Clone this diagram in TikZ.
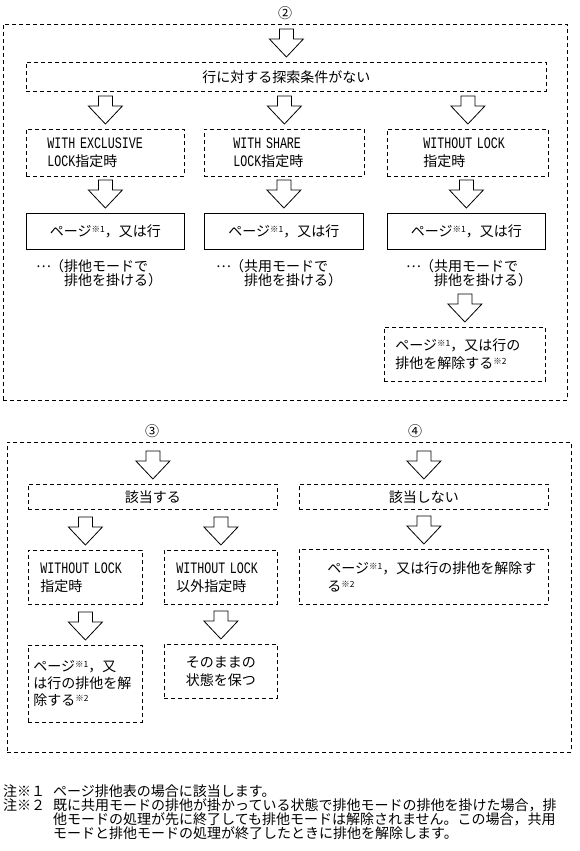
\documentclass[tikz,border=0pt]{standalone}
\usepackage{fontspec}
\setmainfont{Noto Sans CJK JP}
\newfontfamily\monof[Scale=1.14, FakeStretch=0.73]{Liberation Mono}
\usepackage{tikz}
\lineskiplimit=-10pt
\newcommand{\kome}[1]{\raisebox{0.55ex}{\fontsize{8.5}{8.5}\selectfont ※#1}}
\newcommand{\leadellip}{\makebox[1em][l]{\raisebox{0.3em}{…}}}
\newcommand{\blockdown}[1]{\draw[hollow] ([yshift=5pt]#1.north) -- ++(-17,-18) -- ++(10,0) -- ++(0,-10) -- ++(14,0) -- ++(0,10) -- ++(10,0) -- cycle;}

\begin{document}
\begin{tikzpicture}[x=1pt, y=-1pt, font=\fontsize{14}{18}\selectfont, frame/.style = {draw, dash pattern=on 4pt off 3pt, line width=0.8pt, anchor=north west, inner sep=0pt}, dbox/.style = {draw, dash pattern=on 4pt off 3pt, line width=0.8pt, anchor=north west, align=left, inner xsep=0pt, inner ysep=0pt}, sbox/.style = {draw, line width=0.8pt, anchor=north west, align=center, inner sep=0pt}, hollow/.style = {draw, line width=0.8pt, line join=miter}, remark/.style = {anchor=west, align=left, inner sep=0pt, font=\fontsize{14}{14}\selectfont}]
	\useasboundingbox (0,0) rectangle (580,851);
	% (2)
	\node (lab2) at (285,13) {②};
	\node[frame, minimum width=564, minimum height=376] (sec2) at (3,24) {};
	\node[dbox, minimum width=520, minimum height=29, align=center] (cond) at (26,62) {行に対する探索条件がない};
	\node[dbox, minimum width=158, minimum height=47, text width=116] (exc) at (26,129) {{\monof WITH EXCLUSIVE}\\{\monof LOCK}指定時};
	\node[dbox, minimum width=160, minimum height=47, text width=102] (shr) at (204,129) {{\monof WITH SHARE}\\{\monof LOCK}指定時};
	\node[dbox, minimum width=161, minimum height=47, text width=89] (wol) at (387,129) {{\monof WITHOUT LOCK}\\指定時};
	\node[sbox, minimum width=158, minimum height=36] (pg1) at (26,213) {ページ\kome{1}，又は行};
	\node[sbox, minimum width=159, minimum height=36] (pg2) at (204,213) {ページ\kome{1}，又は行};
	\node[sbox, minimum width=158, minimum height=36] (pg3) at (387,213) {ページ\kome{1}，又は行};
	\node[remark] (how1) at (36,273) {\leadellip（排他モードで\\\hspace*{2em}排他を掛ける）};
	\node[remark] (how2) at (216,273) {\leadellip（共用モードで\\\hspace*{2em}排他を掛ける）};
	\node[remark] (how3) at (406,273) {\leadellip（共用モードで\\\hspace*{2em}排他を掛ける）};
	\node[dbox, minimum width=161, minimum height=54, text width=139] (rel2) at (384,327) {ページ\kome{1}，又は行の\\排他を解除する\kome{2}};
	% (3) and (4)
	\node (lab3) at (152,431) {③};
	\node (lab4) at (415,431) {④};
	\node[frame, minimum width=564, minimum height=310] (sec3) at (7,442) {};
	\node[dbox, minimum width=249, minimum height=25, align=center] (hit) at (28,484) {該当する};
	\node[dbox, minimum width=114, minimum height=54, text width=90] (wol3) at (28,550) {{\monof WITHOUT LOCK}\\指定時};
	\node[dbox, minimum width=113, minimum height=54, text width=89] (oth3) at (164,550) {{\monof WITHOUT LOCK}\\以外指定時};
	\node[dbox, minimum width=114, minimum height=77, text width=104, font=\fontsize{14}{17}\selectfont] (rel3) at (28,645) {ページ\kome{1}，又\\は行の排他を解\\除する\kome{2}};
	\node[dbox, minimum width=113, minimum height=54, align=center] (keep) at (164,644) {そのままの\\状態を保つ};
	\node[dbox, minimum width=249, minimum height=25, align=center] (miss) at (299,484) {該当しない};
	\node[dbox, minimum width=249, minimum height=55, text width=193] (rel4) at (299,549) {ページ\kome{1}，又は行の排他を解除す\\る\kome{2}};
	% arrows
	\foreach \n in {cond,exc,shr,wol,pg1,pg2,pg3,rel2,hit,wol3,oth3,rel3,keep,miss,rel4}
		{\blockdown{\n}}
	% notes
	\node[remark] (mark1) at (3,791) {注※１};
	\node[remark] (note1) at (53,791) {ページ排他表の場合に該当します。};
	\node[remark] (mark2) at (3,805) {注※２};
	\node[remark] (note2) at (53,819) {既に共用モードの排他が掛かっている状態で排他モードの排他を掛けた場合，排\\他モードの処理が先に終了しても排他モードは解除されません。この場合，共用\\モードと排他モードの処理が終了したときに排他を解除します。};
\end{tikzpicture}
\end{document}
